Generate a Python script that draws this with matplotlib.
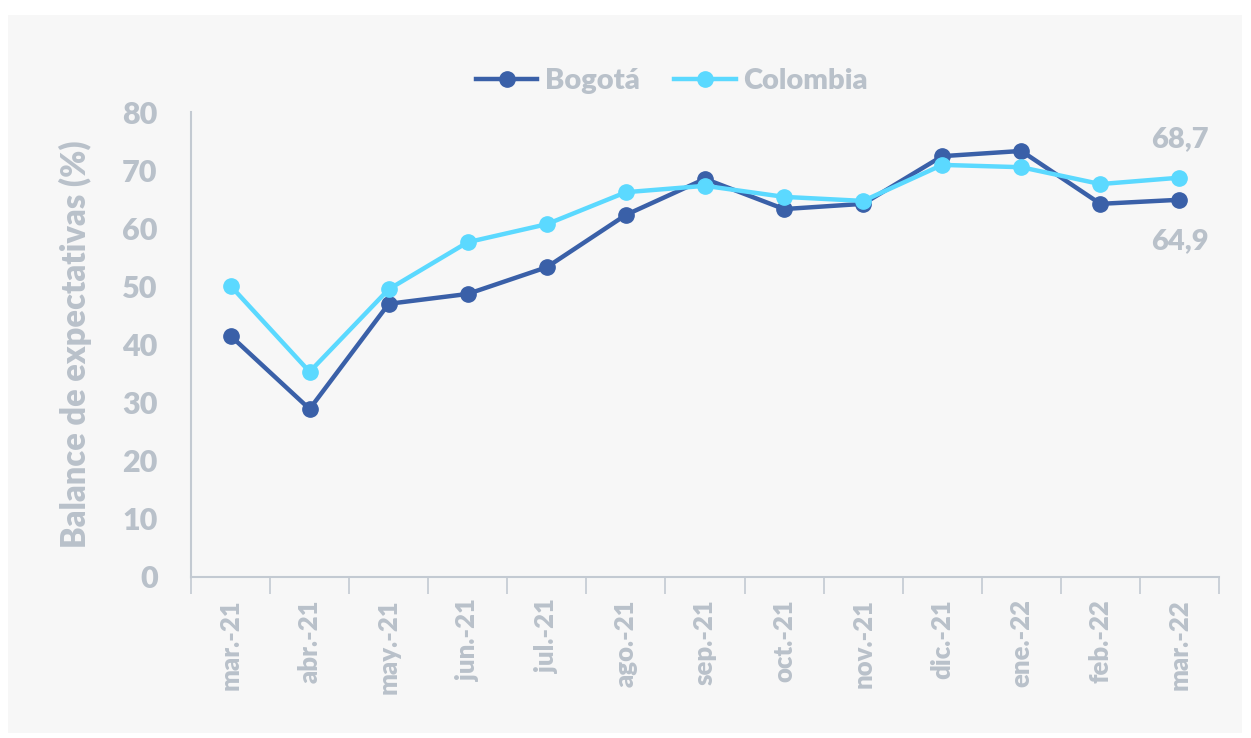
import matplotlib
matplotlib.use('Agg')
from matplotlib import pyplot as plt
from matplotlib.patches import Rectangle

meses = ['mar.-21', 'abr.-21', 'may.-21', 'jun.-21', 'jul.-21', 'ago.-21', 'sep.-21',
         'oct.-21', 'nov.-21', 'dic.-21', 'ene.-22', 'feb.-22', 'mar.-22']
bogota = [41.5, 28.9, 47.0, 48.7, 53.3, 62.3, 68.5, 63.3, 64.2, 72.4, 73.3, 64.2, 64.9]
colombia = [50.1, 35.3, 49.5, 57.6, 60.7, 66.2, 67.3, 65.4, 64.7, 70.9, 70.5, 67.6, 68.7]

gris = '#b9c1ca'
azul = '#3a60a8'
celeste = '#5bd9ff'

plt.rcParams['font.family'] = ['Lato', 'DejaVu Sans']
W = 800

fig = plt.figure(figsize=(12.51, 7.38), dpi=100, facecolor='white')
fig.patches.append(Rectangle((8 / 1251, 1 - 733 / 738), 1234 / 1251, 718 / 738,
                             transform=fig.transFigure, facecolor='#f7f7f7',
                             edgecolor='none', zorder=-1))
ax = fig.add_axes([191 / 1251, 1 - 577 / 738, 1028 / 1251, 465 / 738])
ax.set_facecolor('none')

x = list(range(len(meses)))
ax.plot(x, bogota, color=azul, lw=3.2, marker='o', ms=11, label='Bogotá', zorder=3)
ax.plot(x, colombia, color=celeste, lw=3.2, marker='o', ms=11, label='Colombia', zorder=3)

ax.set_xlim(-0.5, len(meses) - 0.5)
ax.set_ylim(0, 80)
ax.set_yticks(range(0, 81, 10))
ax.set_yticklabels([str(v) for v in range(0, 81, 10)], fontsize=22, color=gris, fontweight=W)
ax.tick_params(axis='y', length=0, pad=24)

ax.set_xticks(x)
ax.set_xticklabels(meses, rotation=90, fontsize=18.5, color=gris, fontweight=W)
ax.tick_params(axis='x', length=0, pad=16)
ax.set_xticks([i - 0.5 for i in range(len(meses) + 1)], minor=True)
ax.tick_params(axis='x', which='minor', length=12, width=1.2, color='#c3cad2', direction='out')

for s in ['top', 'right']:
    ax.spines[s].set_visible(False)
for s in ['left', 'bottom']:
    ax.spines[s].set_color('#c3cad2')
    ax.spines[s].set_linewidth(1.5)

ax.set_ylabel('Balance de expectativas (%)', fontsize=23.5, color=gris, labelpad=22, fontweight=W)

ax.annotate('68,7', (x[-1], colombia[-1]), xytext=(0, 28), textcoords='offset points',
            ha='center', va='center', fontsize=21, color=gris, fontweight=W)
ax.annotate('64,9', (x[-1], bogota[-1]), xytext=(0, -30), textcoords='offset points',
            ha='center', va='center', fontsize=21, color=gris, fontweight=W)

leg = fig.legend(loc='center', bbox_to_anchor=(0.537, 1 - 81 / 738), ncol=2, frameon=False,
                 prop={'size': 21, 'weight': W}, handlelength=2.1, handletextpad=0.25,
                 columnspacing=1.2)
for t in leg.get_texts():
    t.set_color(gris)

fig.savefig('out.png', dpi=100, facecolor=fig.get_facecolor())
